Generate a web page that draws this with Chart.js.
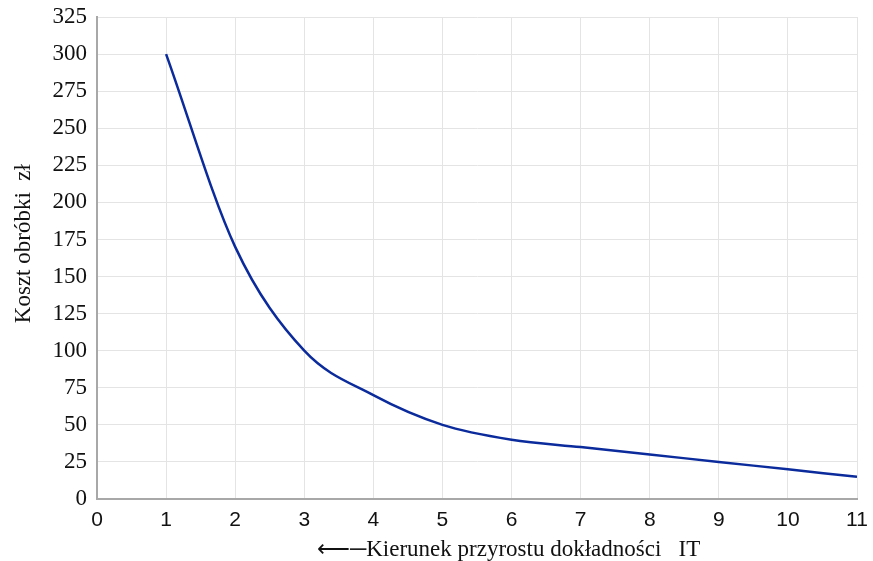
<!DOCTYPE html>
<html>
<head>
<meta charset="utf-8">
<script src="https://cdn.jsdelivr.net/npm/chart.js@4"></script>
<style>
  html, body { margin: 0; padding: 0; background: #fff; }
  #wrap { width: 873px; height: 561px; position: relative; }
</style>
</head>
<body>
<div id="wrap"><canvas id="c"></canvas></div>
<script>
const xValues = [1, 2, 3, 4, 5, 6, 7, 8, 9, 10, 11];
const costValues = [300, 170, 100, 70, 50, 40, 35, 30, 25, 20, 15];
const yTitle = 'Koszt obróbki  zł';
const xTitle = 'Kierunek przyrostu dokładności' + '\u00a0\u00a0\u00a0' + 'IT';
const NB = '\u00a0';

const points = xValues.map((x, i) => ({ x: x, y: costValues[i] }));

new Chart(document.getElementById('c'), {
  type: 'line',
  data: {
    datasets: [{
      data: points,
      borderColor: '#0b2b9c',
      borderWidth: 2.5,
      pointRadius: 0,
      cubicInterpolationMode: 'monotone',
      fill: false
    }]
  },
  options: {
    responsive: true,
    maintainAspectRatio: false,
    animation: false,
    layout: { padding: { left: 0, right: 16, top: 17, bottom: 0 } },
    plugins: { legend: { display: false }, tooltip: { enabled: false } },
    scales: {
      x: {
        type: 'linear',
        min: 0, max: 11,
        ticks: {
          stepSize: 1,
          padding: 9,
          color: '#111',
          font: { family: '"Liberation Sans", Arial, sans-serif', size: 21 }
        },
        grid: { color: '#e4e4e4', lineWidth: 1, drawTicks: false },
        border: { color: '#a8a8a8', width: 2 },
        title: {
          display: true,
          text: NB.repeat(11) + '\u27F5\u2500' + xTitle,
          color: '#111',
          font: { family: '"Liberation Serif", "Times New Roman", serif', size: 23 },
          padding: { top: 0, bottom: -3 }
        },
        afterFit: (s) => { s.height = 62; s.paddingLeft = 0; s.paddingRight = 0; }
      },
      y: {
        min: 0, max: 325,
        ticks: {
          stepSize: 25,
          padding: 10,
          color: '#111',
          font: { family: '"Liberation Serif", "Times New Roman", serif', size: 23 }
        },
        grid: { color: '#e4e4e4', lineWidth: 1, drawTicks: false },
        border: { color: '#a8a8a8', width: 2 },
        title: {
          display: true,
          text: NB.repeat(5) + yTitle,
          color: '#111',
          font: { family: '"Liberation Serif", "Times New Roman", serif', size: 23 },
          padding: { top: 10, bottom: 0 }
        },
        afterFit: (s) => { s.width = 97; s.paddingTop = 0; s.paddingBottom = 0; }
      }
    }
  }
});
</script>
</body>
</html>
